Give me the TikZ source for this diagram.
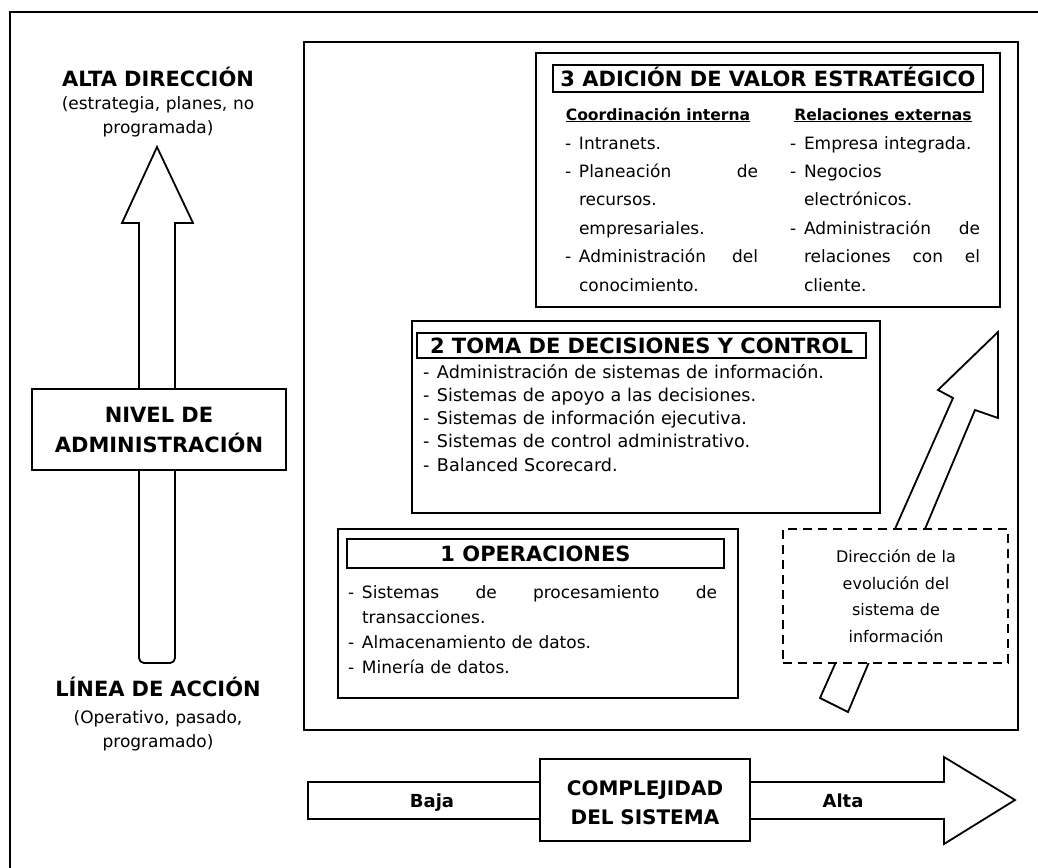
\documentclass[tikz,border=0pt]{standalone}
\usepackage{fontspec}
\setmainfont{DejaVu Sans}
\newcommand{\fHead}{\fontsize{21}{30}\selectfont\bfseries}
\newcommand{\fCompl}{\fontsize{20}{29}\selectfont\bfseries}
\newcommand{\fSub}{\fontsize{17}{24.5}\selectfont}
\newcommand{\fTitle}{\fontsize{21}{24}\selectfont\bfseries}
\newcommand{\fColHead}{\fontsize{15.6}{20}\selectfont\bfseries}
\newcommand{\fAxis}{\fontsize{18}{20}\selectfont\bfseries}
\newcommand{\fBodyA}{\fontsize{17}{28.4}\selectfont}
\newcommand{\fBodyB}{\fontsize{17.6}{23.3}\selectfont}
\newcommand{\fBodyC}{\fontsize{17}{25.3}\selectfont}
\newcommand{\fBodyD}{\fontsize{16}{26.7}\selectfont}
\newcommand{\dashitem}{\makebox[14pt][l]{-}}
\newcommand{\contitem}{\hspace*{14pt}}
\begin{document}
\begin{tikzpicture}[x=1pt,y=-1pt,
  every node/.style={inner sep=0pt, outer sep=0pt},
  ink/.style={draw=black, line width=1.8pt},
  panel/.style={ink, fill=white, anchor=north west},
  titlebox/.style={ink, fill=white, anchor=north west, text height=15.3pt, text depth=0pt, font=\fTitle},
  textblock/.style={anchor=base west, align=left, text width=#1},
  lbltext/.style={anchor=base, align=center, text width=280pt},
  evo/.style={ink, fill=white, dash pattern=on 9pt off 6pt}
]
\useasboundingbox (0,0) rectangle (1038,867);
\fill[white] (0,0) rectangle (1038,867);

% outer frame
\draw[ink] (10,880) -- (10,12) -- (1050,12);

% management level axis
\node[lbltext, font=\fHead] (alta) at (158,86) {ALTA DIRECCIÓN};
\node[lbltext, font=\fSub] (altasub) at (158,109) {(estrategia, planes, no\\programada)};
\coordinate (uptip) at (157,147);
\draw[ink, fill=white, rounded corners=5pt] (139,440) -- (139,663) -- (175,663) -- (175,440)
  [sharp corners] -- (175,223) -- (193,223) -- (uptip) -- (122,223) -- (139,223) -- cycle;
\node[ink, fill=white, minimum width=254pt, minimum height=81pt, align=center, font=\fHead]
  (nivel) at (159,429.5) {NIVEL DE\\ADMINISTRACIÓN};
\node[lbltext, font=\fHead] (linea) at (158,696) {LÍNEA DE ACCIÓN};
\node[lbltext, font=\fSub] (lineasub) at (158,723) {(Operativo, pasado,\\programado)};

% systems frame
\node[panel, minimum width=714pt, minimum height=688pt] (frame) at (304,42) {};

% evolution arrow
\draw[ink, fill=white] (820,698) -- (953,398) -- (938,390) -- (998,332) -- (998,418)
  -- (975,410) -- (848,712) -- cycle;

% level 3
\node[panel, minimum width=464pt, minimum height=254pt] (b3) at (536,53) {};
\node[titlebox, minimum width=430pt, minimum height=27pt] (t3) at (553,65) {3 ADICIÓN DE VALOR ESTRATÉGICO};
\node[anchor=base, font=\fColHead] (c3a) at (658,120) {\underline{Coordinación interna}};
\node[anchor=base, font=\fColHead] (c3b) at (883,120) {\underline{Relaciones externas}};
\node[textblock=193pt, font=\fBodyA] (l3a) at (565,149) {%
\dashitem Intranets.\\
\dashitem Planeación \hfill de\\
\contitem recursos.\\
\contitem empresariales.\\
\dashitem Administración \hfill del\\
\contitem conocimiento.};
\node[textblock=190pt, font=\fBodyA] (l3b) at (790,149) {%
\dashitem Empresa integrada.\\
\dashitem Negocios\\
\contitem electrónicos.\\
\dashitem Administración \hfill de\\
\contitem relaciones \hfill con \hfill el\\
\contitem cliente.};

% level 2
\node[panel, minimum width=468pt, minimum height=192pt] (b2) at (412,321) {};
\node[titlebox, minimum width=449pt, minimum height=25pt] (t2) at (417,333) {2 TOMA DE DECISIONES Y CONTROL};
\node[textblock=440pt, font=\fBodyB] (l2) at (423,378) {%
\dashitem Administración de sistemas de información.\\
\dashitem Sistemas de apoyo a las decisiones.\\
\dashitem Sistemas de información ejecutiva.\\
\dashitem Sistemas de control administrativo.\\
\dashitem Balanced Scorecard.};

% level 1
\node[panel, minimum width=400pt, minimum height=169pt] (b1) at (338,529) {};
\node[titlebox, minimum width=377pt, minimum height=29pt] (t1) at (347,539) {1 OPERACIONES};
\node[textblock=369pt, font=\fBodyC] (l1) at (348,598) {%
\dashitem Sistemas \hfill de \hfill procesamiento \hfill de\\
\contitem transacciones.\\
\dashitem Almacenamiento de datos.\\
\dashitem Minería de datos.};

% evolution note
\node[evo, anchor=north west, minimum width=225pt, minimum height=134pt] (dir) at (783,529) {};
\node[lbltext, font=\fBodyD] (dirtxt) at (896,562.5) {Dirección de la\\evolución del\\sistema de\\información};

% complexity axis
\draw[ink, fill=white] (308,782) -- (944,782) -- (944,757) -- (1015,800) -- (944,844)
  -- (944,819) -- (308,819) -- cycle;
\node[panel, minimum width=210pt, minimum height=82pt] (compl) at (540,759) {};
\node[lbltext, font=\fCompl] (compltxt) at (645,795.5) {COMPLEJIDAD\\DEL SISTEMA};
\node[anchor=base, font=\fAxis] (baja) at (432,807.5) {Baja};
\node[anchor=base, font=\fAxis] (altalbl) at (843,807.5) {Alta};
\end{tikzpicture}
\end{document}
